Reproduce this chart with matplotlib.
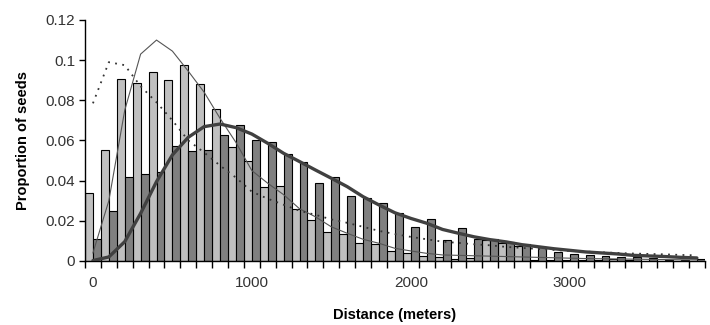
import matplotlib
matplotlib.use("Agg")
import matplotlib.pyplot as plt
import numpy as np

plt.rcParams['font.family'] = ['Liberation Sans', 'DejaVu Sans']

# distance classes (m), one per 100 m bin
distance = list(range(0, 3900, 100))
tick_labels = {0: "0", 1000: "1000", 2000: "2000", 3000: "3000"}

# observed proportions, light series
observed_a = [0.034, 0.0555, 0.0908, 0.0888, 0.094, 0.090, 0.0975, 0.088, 0.0755, 0.057,
              0.050, 0.0368, 0.0373, 0.026, 0.0204, 0.0146, 0.0133, 0.0088, 0.0083, 0.0048,
              0.0041, 0.0027, 0.0022, 0.001, 0.0015, 0.0105, 0.009, 0.0075, 0.0005, 0.0003,
              0.0003, 0.0003, 0.0003, 0.0008, 0.0003, 0.0002, 0.0002, 0.0002, 0.0002]
# observed proportions, dark series
observed_b = [0.0108, 0.025, 0.0417, 0.0435, 0.0443, 0.0575, 0.055, 0.0555, 0.0625, 0.0675,
              0.060, 0.0593, 0.0533, 0.0493, 0.0387, 0.042, 0.0325, 0.0315, 0.0287, 0.024,
              0.0168, 0.0207, 0.0105, 0.0166, 0.011, 0.011, 0.0095, 0.0083, 0.007, 0.0045,
              0.0033, 0.0028, 0.0025, 0.002, 0.002, 0.0015, 0.0007, 0.0005, 0.0012]
# fitted curves
fit_thin = [0.004, 0.030, 0.075, 0.103, 0.110, 0.1045, 0.0945, 0.084, 0.071, 0.059,
            0.045, 0.0387, 0.033, 0.026, 0.022, 0.017, 0.0138, 0.0108, 0.0088, 0.0063,
            0.005, 0.0038, 0.003, 0.0028, 0.0026, 0.0024, 0.0022, 0.002, 0.0018, 0.0016,
            0.0014, 0.0012, 0.0011, 0.001, 0.0009, 0.0008, 0.0007, 0.0006, 0.0005]
fit_dotted = [0.0785, 0.099, 0.0975, 0.087, 0.079, 0.070, 0.060, 0.054, 0.0475, 0.0415,
              0.0345, 0.031, 0.028, 0.025, 0.023, 0.0207, 0.019, 0.017, 0.015, 0.0134,
              0.012, 0.0108, 0.0096, 0.009, 0.0083, 0.0078, 0.007, 0.0065, 0.006, 0.0055,
              0.005, 0.0047, 0.0043, 0.004, 0.0037, 0.0035, 0.0033, 0.003, 0.0028]
fit_thick = [0.0002, 0.002, 0.0096, 0.0237, 0.0395, 0.0528, 0.0616, 0.0669, 0.0682, 0.0664,
             0.0632, 0.0586, 0.0536, 0.0495, 0.0453, 0.0412, 0.037, 0.032, 0.0279, 0.024,
             0.0212, 0.0188, 0.0157, 0.0138, 0.012, 0.0106, 0.0095, 0.0081, 0.0071, 0.0061,
             0.0053, 0.0045, 0.004, 0.0035, 0.0028, 0.0025, 0.0022, 0.0018, 0.0015]

n = len(distance)
idx = np.arange(n)

fig = plt.figure(figsize=(7.1, 3.25), dpi=100)
ax = fig.add_axes([0.1197, 0.197, 0.873, 0.7415])

ax.bar(idx + 0.25, observed_a, width=0.5, color='#c0c0c0', edgecolor='black', linewidth=0.8, zorder=2)
ax.bar(idx + 0.75, observed_b, width=0.5, color='#808080', edgecolor='black', linewidth=0.8, zorder=2)

centers = idx + 0.5
ax.plot(centers, fit_thin, color='#555555', linewidth=0.8, zorder=3)
ax.plot(centers, fit_dotted, color='#333333', linewidth=1.3, linestyle=(0, (1, 3)), zorder=3)
ax.plot(centers, fit_thick, color='#404040', linewidth=2.4, zorder=3, solid_capstyle='round')

ax.set_xlim(0, n)
ax.set_ylim(0, 0.12)
ax.set_yticks([0, 0.02, 0.04, 0.06, 0.08, 0.1, 0.12])
ax.set_yticklabels(["0", "0.02", "0.04", "0.06", "0.08", "0.1", "0.12"], fontsize=11, color='#333333')
ax.set_xticks(np.arange(0, n + 1), minor=False)
ax.set_xticklabels([])
ax.set_xticks([distance.index(d) + 0.5 for d in tick_labels], minor=True)
ax.set_xticklabels(list(tick_labels.values()), minor=True, fontsize=11, color='#333333')
ax.tick_params(axis='x', which='minor', length=0, pad=11)
ax.tick_params(axis='x', which='major', length=5, width=1, direction='out')
ax.tick_params(axis='y', length=4, width=1, direction='out', pad=3)

for s in ['top', 'right']:
    ax.spines[s].set_visible(False)
for s in ['left', 'bottom']:
    ax.spines[s].set_linewidth(1.0)
    ax.spines[s].set_color('black')

ax.set_ylabel("Proportion of seeds", fontsize=10.5, fontweight='bold', labelpad=11)
ax.set_xlabel("Distance (meters)", fontsize=10.5, fontweight='bold', labelpad=13)

fig.savefig("out.png", dpi=100)
